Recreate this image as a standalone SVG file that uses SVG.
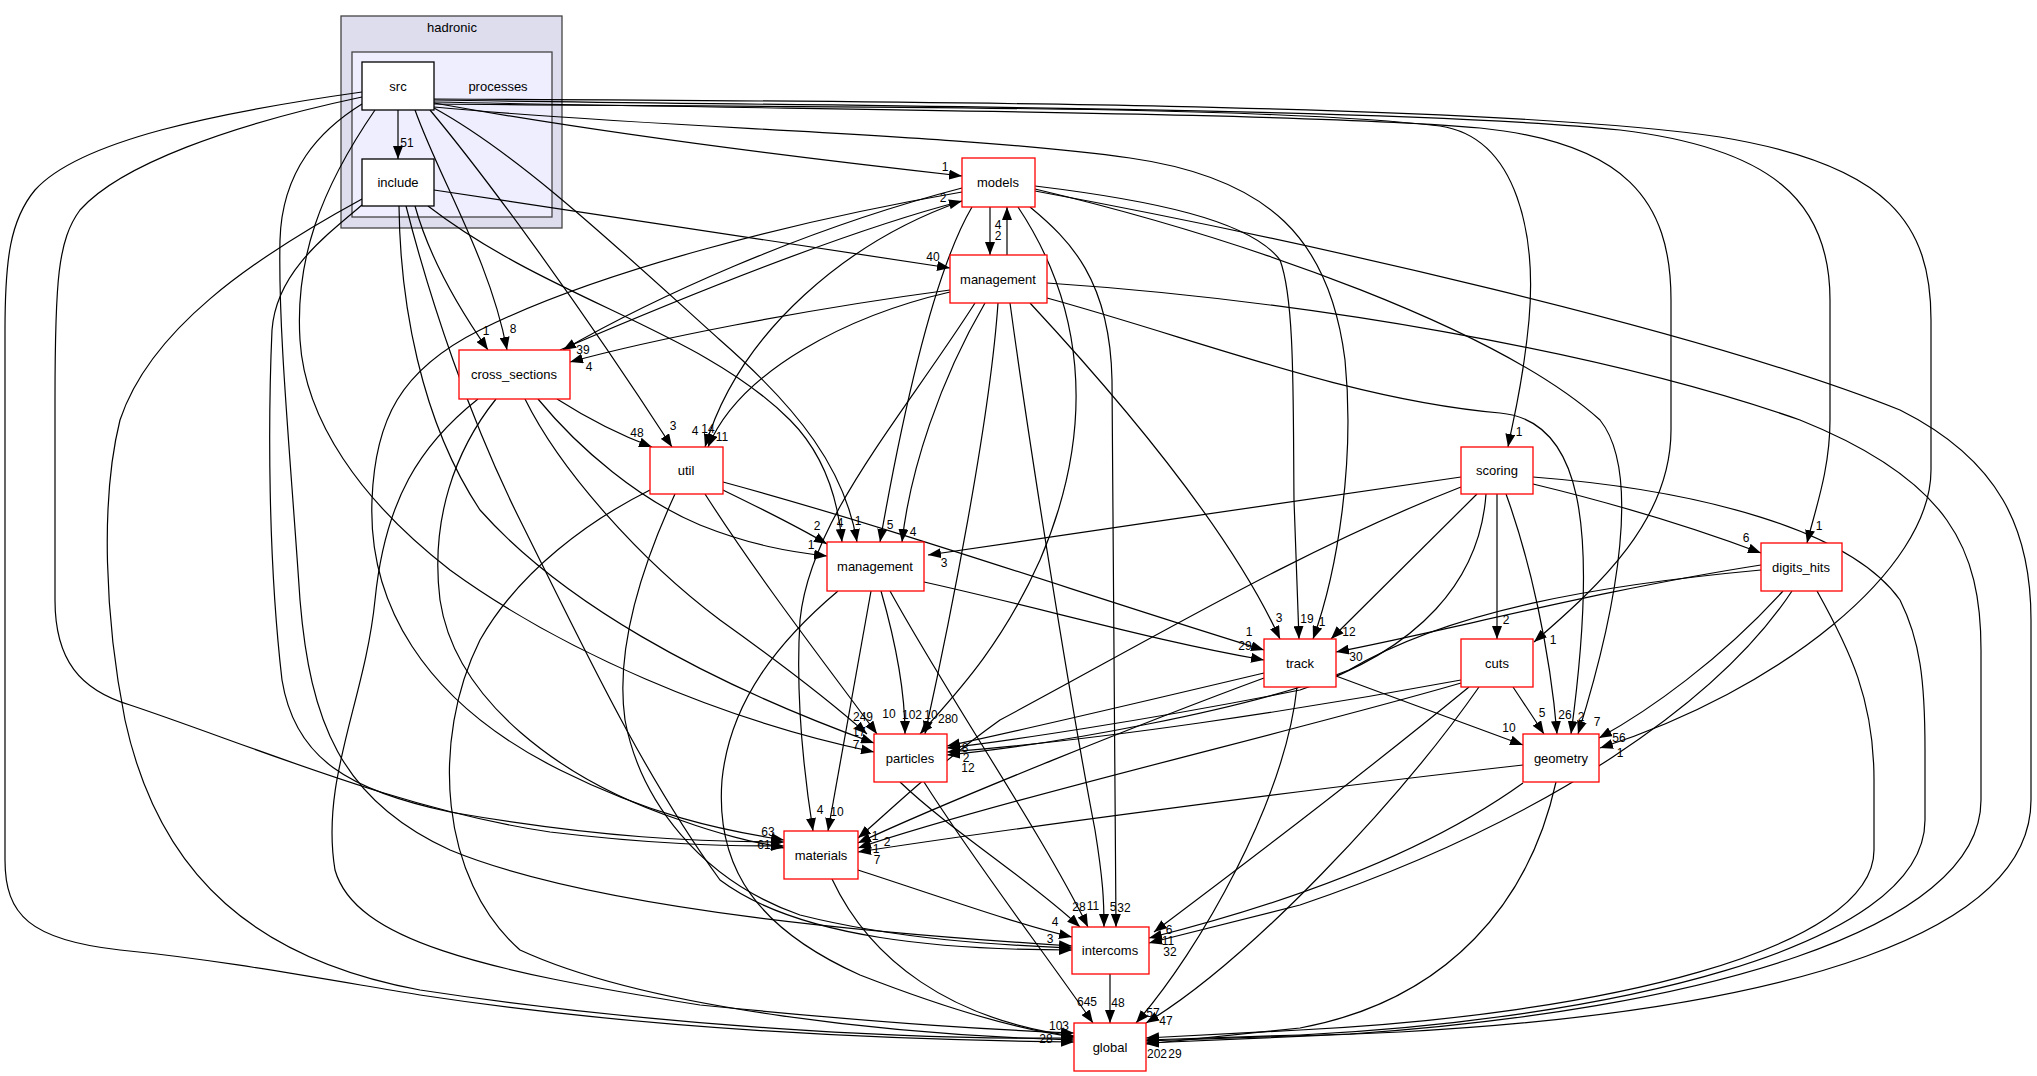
<svg xmlns="http://www.w3.org/2000/svg" width="2037" height="1076" viewBox="0 0 2037 1076">
<defs>
<marker id="a" markerUnits="userSpaceOnUse" markerWidth="13" markerHeight="10" viewBox="0 0 13 10" refX="13" refY="5" orient="auto"><path d="M0,0 L13,5 L0,10 z" fill="#000"/></marker>
<style>
text{font-family:"Liberation Sans",Arial,Helvetica,sans-serif;fill:#000}
.nl{font-size:13px;text-anchor:middle}
.red rect{fill:#fff;stroke:#f00;stroke-width:1.3}
.blk rect{fill:#fff;stroke:#000;stroke-width:1.3}
#edges path{fill:none;stroke:#000;stroke-width:1.2;marker-end:url(#a)}
#labels text{font-size:12px;text-anchor:middle}
</style>
</defs>
<rect width="2037" height="1076" fill="#fff"/>
<g id="cluster_hadronic"><rect x="341" y="16" width="221" height="212" fill="#ddddee" stroke="#444" stroke-width="1.3"/><text class="nl" x="452" y="32">hadronic</text></g>
<g id="cluster_processes"><rect x="352" y="52" width="200" height="165" fill="#eeeeff" stroke="#444" stroke-width="1.3"/><text class="nl" x="498" y="91">processes</text></g>
<g id="edges">
<path d="M398,110 L398,159"/>
<path d="M434,103 C600,133 800,158 962,176"/>
<path d="M434,107 C650,128 950,133 1130,158 C1270,178 1330,240 1345,360 C1355,460 1338,570 1313,639"/>
<path d="M434,104 C800,108 1250,104 1440,126 C1520,138 1536,240 1529,320 C1523,385 1513,420 1508,447"/>
<path d="M434,102 C800,110 1300,112 1480,128 C1625,143 1671,200 1671,300 L1671,430 C1671,520 1600,585 1534,642"/>
<path d="M434,100 C800,106 1400,107 1620,130 C1770,148 1830,200 1830,300 L1830,420 C1830,470 1815,510 1807,543"/>
<path d="M434,99 C900,101 1500,104 1720,137 C1890,165 1931,225 1931,320 L1931,470 C1931,570 1780,690 1600,748"/>
<path d="M362,92 C220,112 80,140 35,190 C10,220 5,260 5,330 L5,860 C5,915 30,940 120,950 C220,960 300,975 420,995 C650,1030 900,1040 1074,1042"/>
<path d="M362,97 C230,125 120,165 80,210 C58,240 55,280 55,400 L55,600 C55,660 80,690 130,705 C250,745 400,810 550,832 C650,844 720,846 784,846"/>
<path d="M362,104 C320,130 282,170 280,240 C278,330 290,450 300,600 C310,720 340,800 450,850 C600,912 900,935 1072,946"/>
<path d="M375,110 C320,190 295,260 300,340 C305,420 360,500 450,570 C560,650 720,720 874,752"/>
<path d="M415,110 C440,180 490,260 507,350"/>
<path d="M430,110 C480,170 570,290 672,447"/>
<path d="M434,108 C520,155 620,250 720,340 C800,410 845,470 857,542"/>
<path d="M434,190 C600,215 800,245 950,268"/>
<path d="M415,206 C430,260 460,310 488,350"/>
<path d="M428,206 C550,300 700,330 790,420 C825,455 838,500 842,542"/>
<path d="M362,199 C250,260 150,330 120,420 C100,500 105,620 125,720 C160,880 260,960 420,990 C650,1025 900,1040 1074,1038"/>
<path d="M362,205 C320,240 276,275 272,330 C268,420 268,560 282,680 C295,760 350,790 450,812 C600,838 700,842 784,842"/>
<path d="M399,206 C400,300 420,420 480,510 C560,600 700,680 874,743"/>
<path d="M406,206 C430,300 470,420 520,520 C580,640 640,770 720,880 C800,940 950,950 1072,950"/>
<path d="M990,207 L990,255"/>
<path d="M962,188 C800,230 650,300 563,350"/>
<path d="M962,201 C850,240 740,330 705,447"/>
<path d="M972,207 C935,270 905,400 880,542"/>
<path d="M1018,207 C1080,300 1100,420 1040,560 C1000,650 950,700 920,734"/>
<path d="M1030,207 C1070,240 1110,280 1112,380 L1116,927"/>
<path d="M1035,186 C1150,200 1250,220 1280,260 C1295,300 1293,400 1294,500 L1299,639"/>
<path d="M1035,189 C1250,240 1500,330 1600,420 C1640,470 1620,600 1578,734"/>
<path d="M1035,191 C1300,240 1700,330 1900,410 C2000,460 2031,530 2031,620 L2031,800 C2031,930 1800,1010 1400,1032 L1146,1043"/>
<path d="M962,192 C800,220 600,270 480,330 C400,370 375,420 372,500 C368,600 420,700 560,770 C650,815 720,830 784,840"/>
<path d="M1007,255 L1007,207"/>
<path d="M950,290 C800,310 650,340 570,362"/>
<path d="M950,292 C850,315 740,370 708,447"/>
<path d="M985,303 C940,380 910,470 902,542"/>
<path d="M975,303 C900,420 810,520 800,620 C795,700 805,780 813,831"/>
<path d="M998,303 C990,420 950,620 925,734"/>
<path d="M1010,303 C1030,450 1070,700 1095,830 C1103,880 1104,900 1104,927"/>
<path d="M1030,303 C1120,400 1230,530 1280,639"/>
<path d="M1047,298 C1200,340 1350,400 1500,413 C1580,420 1600,520 1571,734"/>
<path d="M1047,283 C1300,300 1600,350 1800,420 C1950,480 1981,550 1981,650 L1981,800 C1981,930 1700,1010 1350,1034 L1146,1041"/>
<path d="M560,350 C700,290 850,230 962,201"/>
<path d="M557,399 C590,420 620,435 652,447"/>
<path d="M538,399 C580,450 640,500 700,525 C750,545 790,552 827,556"/>
<path d="M525,399 C560,470 640,560 720,620 C790,670 840,710 867,734"/>
<path d="M496,399 C455,450 430,520 440,600 C455,700 560,780 680,820 C730,838 760,843 784,848"/>
<path d="M478,399 C420,445 385,500 375,600 C365,700 320,780 335,870 C355,940 480,970 700,1005 C900,1025 1000,1030 1074,1033"/>
<path d="M723,490 C760,508 795,525 827,544"/>
<path d="M723,482 C900,530 1100,600 1264,650"/>
<path d="M705,494 C760,580 830,670 877,734"/>
<path d="M675,494 C640,570 615,650 625,720 C640,800 700,880 800,915 C900,940 1000,945 1072,948"/>
<path d="M650,490 C590,520 520,570 480,640 C430,740 440,880 520,950 C650,1010 900,1035 1074,1040"/>
<path d="M924,582 C1050,610 1150,640 1264,660"/>
<path d="M881,591 C895,640 905,690 905,734"/>
<path d="M871,591 C855,680 840,760 828,831"/>
<path d="M890,591 C950,700 1040,830 1088,927"/>
<path d="M838,591 C780,640 730,700 722,780 C715,870 760,930 860,975 C950,1010 1020,1030 1074,1037"/>
<path d="M1461,477 C1300,500 1100,530 928,555"/>
<path d="M1477,494 C1420,550 1370,600 1331,639"/>
<path d="M1497,494 L1497,639"/>
<path d="M1506,494 C1530,560 1550,650 1557,734"/>
<path d="M1533,484 C1620,505 1700,530 1761,553"/>
<path d="M1486,494 C1480,580 1420,650 1300,690 C1150,720 1000,742 947,748"/>
<path d="M1461,487 C1300,550 1150,640 1000,720 C930,770 880,820 858,838"/>
<path d="M1533,477 C1700,490 1850,530 1900,600 C1920,640 1925,680 1925,750 L1925,820 C1925,950 1600,1020 1300,1035 L1146,1040"/>
<path d="M1336,676 C1400,700 1470,725 1523,745"/>
<path d="M1264,673 C1150,700 1000,735 947,746"/>
<path d="M1264,678 C1150,720 950,800 858,843"/>
<path d="M1297,687 C1285,800 1200,950 1136,1023"/>
<path d="M1513,687 C1525,705 1535,720 1544,734"/>
<path d="M1461,680 C1300,710 1100,740 947,752"/>
<path d="M1461,683 C1300,730 1000,800 858,848"/>
<path d="M1469,687 C1380,760 1250,860 1154,932"/>
<path d="M1479,687 C1400,800 1250,960 1146,1023"/>
<path d="M1761,565 C1600,590 1450,630 1336,652"/>
<path d="M1761,570 C1600,585 1450,610 1349,670 C1250,710 1050,745 947,755"/>
<path d="M1783,591 C1720,660 1650,710 1599,738"/>
<path d="M1792,591 C1720,700 1550,820 1300,905 C1220,925 1180,935 1149,943"/>
<path d="M1817,591 C1850,650 1874,700 1874,780 L1874,850 C1874,950 1600,1015 1300,1030 L1146,1038"/>
<path d="M1523,765 C1300,790 1000,830 858,852"/>
<path d="M1523,783 C1430,850 1300,900 1149,938"/>
<path d="M1556,782 C1530,900 1450,1000 1300,1028 L1146,1044"/>
<path d="M900,782 C950,830 1030,880 1080,927"/>
<path d="M924,782 C980,870 1050,960 1093,1023"/>
<path d="M858,870 C950,900 1020,925 1072,937"/>
<path d="M832,879 C870,960 950,1020 1074,1036"/>
<path d="M1110,974 L1110,1023"/>
</g>
<g id="labels">
<text x="407" y="147">51</text>
<text x="945" y="171">1</text>
<text x="1322" y="626">1</text>
<text x="1519" y="436">1</text>
<text x="1553" y="644">1</text>
<text x="1819" y="530">1</text>
<text x="1620" y="757">1</text>
<text x="1050" y="943">3</text>
<text x="764" y="849">61</text>
<text x="856" y="749">7</text>
<text x="513" y="333">8</text>
<text x="673" y="430">3</text>
<text x="858" y="525">1</text>
<text x="933" y="261">40</text>
<text x="486" y="335">1</text>
<text x="840" y="527">4</text>
<text x="1046" y="1043">28</text>
<text x="859" y="736">17</text>
<text x="998" y="229">4</text>
<text x="583" y="354">39</text>
<text x="695" y="435">4</text>
<text x="708" y="433">14</text>
<text x="890" y="529">5</text>
<text x="931" y="719">10</text>
<text x="1124" y="912">32</text>
<text x="1307" y="623">19</text>
<text x="1597" y="726">7</text>
<text x="1175" y="1058">29</text>
<text x="768" y="836">63</text>
<text x="998" y="240">2</text>
<text x="589" y="371">4</text>
<text x="722" y="441">11</text>
<text x="913" y="536">4</text>
<text x="820" y="814">4</text>
<text x="948" y="723">280</text>
<text x="1113" y="911">5</text>
<text x="1279" y="622">3</text>
<text x="1581" y="721">2</text>
<text x="1157" y="1058">202</text>
<text x="943" y="202">2</text>
<text x="637" y="437">48</text>
<text x="811" y="549">1</text>
<text x="863" y="721">249</text>
<text x="1059" y="1030">103</text>
<text x="817" y="530">2</text>
<text x="1249" y="636">1</text>
<text x="889" y="718">10</text>
<text x="1245" y="650">29</text>
<text x="912" y="719">102</text>
<text x="837" y="816">10</text>
<text x="1093" y="910">11</text>
<text x="944" y="567">3</text>
<text x="1349" y="636">12</text>
<text x="1506" y="624">2</text>
<text x="1565" y="719">26</text>
<text x="1746" y="542">6</text>
<text x="965" y="752">8</text>
<text x="875" y="840">1</text>
<text x="1509" y="732">10</text>
<text x="966" y="762">2</text>
<text x="887" y="846">2</text>
<text x="1153" y="1017">57</text>
<text x="1542" y="717">5</text>
<text x="968" y="772">12</text>
<text x="876" y="853">1</text>
<text x="1169" y="934">6</text>
<text x="1166" y="1025">47</text>
<text x="1356" y="661">30</text>
<text x="1619" y="742">56</text>
<text x="1170" y="956">32</text>
<text x="877" y="864">7</text>
<text x="1168" y="945">11</text>
<text x="1079" y="911">28</text>
<text x="1087" y="1006">645</text>
<text x="1055" y="926">4</text>
<text x="1118" y="1007">48</text>
</g>
<g id="node_src" class="blk"><rect x="362" y="62" width="72" height="48"/><text class="nl" x="398" y="91">src</text></g>
<g id="node_include" class="blk"><rect x="362" y="159" width="72" height="47"/><text class="nl" x="398" y="187">include</text></g>
<g id="node_models" class="red"><rect x="962" y="158" width="73" height="49"/><text class="nl" x="998" y="187">models</text></g>
<g id="node_management_top" class="red"><rect x="950" y="255" width="97" height="48"/><text class="nl" x="998" y="284">management</text></g>
<g id="node_cross_sections" class="red"><rect x="459" y="350" width="111" height="49"/><text class="nl" x="514" y="379">cross_sections</text></g>
<g id="node_util" class="red"><rect x="650" y="447" width="73" height="47"/><text class="nl" x="686" y="475">util</text></g>
<g id="node_management_low" class="red"><rect x="827" y="542" width="97" height="49"/><text class="nl" x="875" y="571">management</text></g>
<g id="node_scoring" class="red"><rect x="1461" y="447" width="72" height="47"/><text class="nl" x="1497" y="475">scoring</text></g>
<g id="node_track" class="red"><rect x="1264" y="639" width="72" height="48"/><text class="nl" x="1300" y="668">track</text></g>
<g id="node_cuts" class="red"><rect x="1461" y="639" width="72" height="48"/><text class="nl" x="1497" y="668">cuts</text></g>
<g id="node_digits_hits" class="red"><rect x="1761" y="543" width="81" height="48"/><text class="nl" x="1801" y="572">digits_hits</text></g>
<g id="node_particles" class="red"><rect x="874" y="734" width="73" height="48"/><text class="nl" x="910" y="763">particles</text></g>
<g id="node_geometry" class="red"><rect x="1523" y="734" width="76" height="48"/><text class="nl" x="1561" y="763">geometry</text></g>
<g id="node_materials" class="red"><rect x="784" y="831" width="74" height="48"/><text class="nl" x="821" y="860">materials</text></g>
<g id="node_intercoms" class="red"><rect x="1072" y="927" width="77" height="47"/><text class="nl" x="1110" y="955">intercoms</text></g>
<g id="node_global" class="red"><rect x="1074" y="1023" width="72" height="48"/><text class="nl" x="1110" y="1052">global</text></g>
</svg>
